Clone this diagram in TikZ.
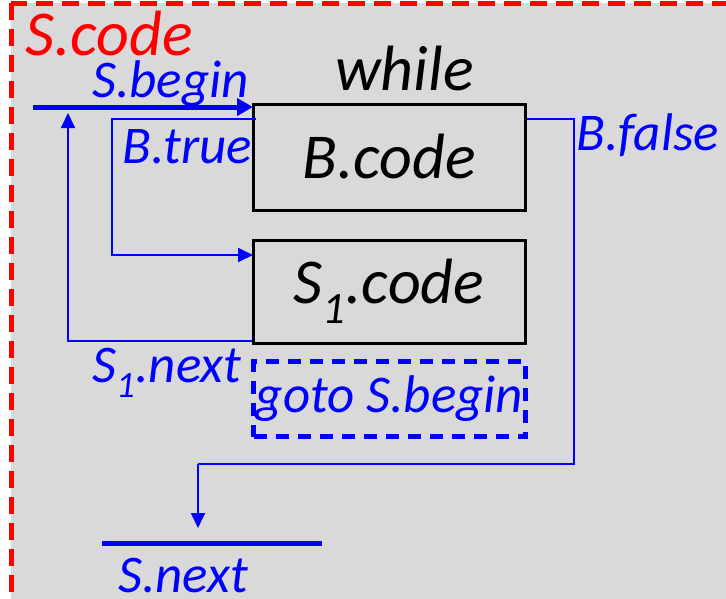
\documentclass[tikz,border=0pt]{standalone}
\usepackage{fontspec}
\setmainfont{Carlito}
\usetikzlibrary{arrows.meta}
\definecolor{bg}{HTML}{D9D9D9}
\definecolor{myblue}{HTML}{0000FF}
\definecolor{myred}{HTML}{FF0000}
\tikzset{
  lbl/.style={inner sep=0pt, anchor=base west, text=myblue, font=\fontsize{53}{60}\selectfont\itshape},
  biglbl/.style={inner sep=0pt, anchor=base west, font=\fontsize{64}{72}\selectfont\itshape},
  codebox/.style={draw=black, line width=3pt, minimum width=272pt, inner sep=0pt, font=\fontsize{64}{72}\selectfont\itshape},
  gotobox/.style={draw=myblue, line width=4.5pt, dash pattern=on 13pt off 9pt, minimum width=272pt, minimum height=75pt, inner sep=0pt, text=myblue, font=\fontsize{53}{60}\selectfont\itshape},
  thinarrow/.style={draw=myblue, line width=1.8pt, -{Triangle[length=15pt,width=14pt]}},
  thinline/.style={draw=myblue, line width=1.8pt},
  thickline/.style={draw=myblue, line width=5pt},
}
\begin{document}
\begin{tikzpicture}[x=1pt,y=-1pt]
\useasboundingbox (0,0) rectangle (726,598);
\clip (0,0) rectangle (726,598);
\fill[white] (0,0) rectangle (726,598);
\draw[fill=bg, draw=myred, line width=5pt, dash pattern=on 17pt off 9pt] (11,3) rectangle (760,640);
% labels
\node[biglbl, text=myred] (scode) at (25,55) {S.code};
\node[lbl] (sbegin) at (92,97) {S.begin};
\node[biglbl, text=black] (while) at (335,90) {while};
\node[lbl] (btrue) at (122,163) {B.true};
\node[lbl] (bfalse) at (576,150) {B.false};
\node[lbl] (s1next) at (92,382) {S\textsubscript{1}.next};
\node[lbl] (snext) at (118,592) {S.next};
% boxes
\node[codebox, minimum height=106pt] (bcode) at (389,157) {B.code};
\node[codebox, minimum height=103pt] (s1code) at (389,291.5) {S\textsubscript{1}.code};
\node[gotobox] (goto) at (389.5,399) {goto S.begin};
% coordinates
\coordinate (sbstart) at (33,107);
\coordinate (sbend) at (253,107);
\coordinate (trustart) at (256,119);
\coordinate (tru) at (112,119);
\coordinate (truend) at (253,255);
\coordinate (nxt) at (68,341);
\coordinate (nxtend) at (68,113);
\coordinate (fls) at (574,119);
\coordinate (fdown) at (198,464);
\coordinate (sntip) at (198,528);
\coordinate (snl) at (102,543);
\coordinate (snr) at (322,543);
% connectors
\draw[thickline, -{Triangle[length=16pt,width=17pt]}] (sbstart) -- (sbend);
\draw[thinarrow] (trustart) -- (tru) |- (truend);
\draw[thinarrow] (s1code.west |- nxt) -- (nxt) -- (nxtend);
\draw[thinline] (bcode.east |- fls) -- (fls) |- (fdown);
\draw[thinarrow] (fdown) -- (sntip);
\draw[thickline] (snl) -- (snr);
\end{tikzpicture}
\end{document}
